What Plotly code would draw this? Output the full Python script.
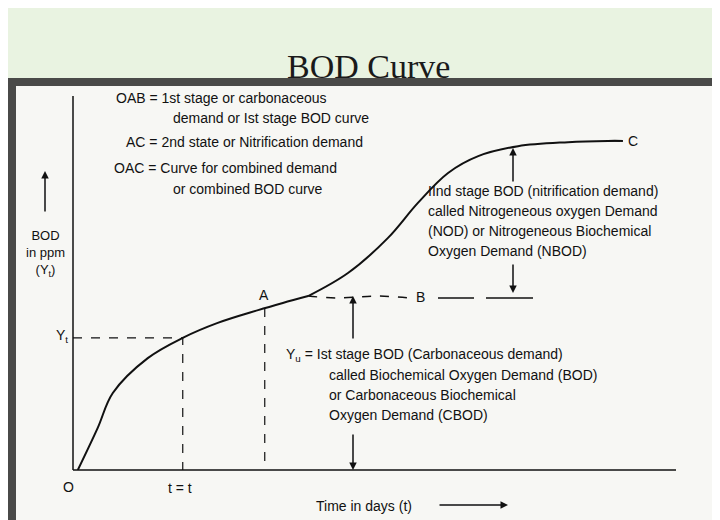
import plotly.graph_objects as go

W, H = 720, 520

# curve data (time in days, BOD in ppm, schematic)
t_first = [0.08, 0.41, 0.66, 1.24, 1.82, 2.40, 3.07, 3.48, 3.90]
bod_first = [0.0, 1.35, 2.47, 3.59, 4.24, 4.72, 5.13, 5.36, 5.58]
t_dash = [3.90, 4.39, 5.06, 5.56]
bod_dash = [5.58, 5.52, 5.58, 5.52]
t_comb = [3.90, 4.56, 5.22, 5.72, 6.22, 6.72, 7.38, 8.21, 8.87, 9.12]
bod_comb = [5.58, 6.32, 7.44, 8.57, 9.53, 10.07, 10.39, 10.52, 10.56, 10.56]
t_yt, bod_yt = 1.82, 4.24
t_a = 3.18


def px(x):
    return x / W


def py(y):
    return 1 - y / H


fig = go.Figure()
line = dict(color='#111', width=2)
fig.add_trace(go.Scatter(x=t_first, y=bod_first, mode='lines', line=dict(shape='spline', **line)))
fig.add_trace(go.Scatter(x=t_dash, y=bod_dash, mode='lines',
                         line=dict(color='#111', width=1.5, dash='dash', shape='spline')))
fig.add_trace(go.Scatter(x=t_comb, y=bod_comb, mode='lines', line=dict(shape='spline', **line)))
# guide lines
fig.add_trace(go.Scatter(x=[0, t_yt, t_yt], y=[bod_yt, bod_yt, 0], mode='lines',
                         line=dict(color='#111', width=1.2, dash='dash')))
fig.add_trace(go.Scatter(x=[t_a, t_a], y=[5.2, 0], mode='lines',
                         line=dict(color='#111', width=1.2, dash='dash')))

shapes = [
    dict(type='rect', xref='paper', yref='paper', x0=0, x1=px(712), y0=0, y1=py(70),
         fillcolor='#4a4a48', line_width=0, layer='below'),
    dict(type='rect', xref='paper', yref='paper', x0=px(8), x1=px(705), y0=0, y1=py(78),
         fillcolor='#f7f7f4', line_width=0, layer='below'),
    # axes
    dict(type='line', xref='paper', yref='paper', x0=px(65), x1=px(65), y0=py(462), y1=py(88),
         line=dict(color='#111', width=1.5)),
    dict(type='line', xref='paper', yref='paper', x0=px(65), x1=px(668), y0=py(462), y1=py(462),
         line=dict(color='#111', width=1.5)),
    # B extension dashes
    dict(type='line', xref='paper', yref='paper', x0=px(430), x1=px(466), y0=py(290), y1=py(290),
         line=dict(color='#111', width=1.5)),
    dict(type='line', xref='paper', yref='paper', x0=px(478), x1=px(525), y0=py(290), y1=py(290),
         line=dict(color='#111', width=1.5)),
    dict(type='line', xref='paper', yref='paper', x0=px(600), x1=px(612),
         y0=py(133), y1=py(133), line=dict(color='#111', width=1.5)),
]

ann = []


def text(x, y, s, size=14, align='left', anchor='left'):
    ann.append(dict(x=px(x), y=py(y), xref='paper', yref='paper', text=s, showarrow=False,
                    font=dict(size=size, color='#111', family='Liberation Sans, Arial'),
                    align=align, xanchor=anchor, yanchor='middle'))


def arrow(x0, y0, x1, y1):
    ann.append(dict(x=px(x1), y=py(y1), ax=x0 - x1, ay=y0 - y1, xref='paper', yref='paper',
                    axref='pixel', ayref='pixel', text='', showarrow=True,
                    arrowhead=2, arrowsize=1, arrowwidth=1.5, arrowcolor='#111'))


ann.append(dict(x=0.5, y=py(38), xref='paper', yref='paper', text='BOD Curve', showarrow=False,
                font=dict(size=34, color='#1a1a1a', family='Liberation Serif, serif')))
text(106, 90, 'OAB = 1st stage or carbonaceous')
text(163, 110, 'demand or Ist stage BOD curve')
text(116, 134, 'AC = 2nd state or Nitrification demand')
text(104, 160, 'OAC = Curve for combined demand')
text(163, 181, 'or combined BOD curve')
text(418, 183, 'IInd stage BOD (nitrification demand)')
text(418, 203, 'called Nitrogeneous oxygen Demand')
text(418, 223, '(NOD) or Nitrogeneous Biochemical')
text(418, 243, 'Oxygen Demand (NBOD)')
text(276, 347, 'Y<sub>u</sub> = Ist stage BOD (Carbonaceous demand)')
text(319, 367, 'called Biochemical Oxygen Demand (BOD)')
text(319, 387, 'or Carbonaceous Biochemical')
text(319, 407, 'Oxygen Demand (CBOD)')
text(37, 245, 'BOD<br>in ppm<br>(Y<sub>t</sub>)', size=13, align='center', anchor='center')
text(46, 328, 'Y<sub>t</sub>', anchor='left')
text(53, 479, 'O')
text(158, 480, 't = t')
text(249, 287, 'A')
text(406, 289, 'B')
text(618, 133, 'C')
text(306, 498, 'Time in days (t)')

arrow(345, 332, 345, 288)
arrow(345, 425, 345, 462)
arrow(505, 175, 505, 140)
arrow(505, 255, 505, 285)
arrow(37, 205, 37, 163)
arrow(430, 497, 500, 497)

fig.update_layout(
    width=W, height=H, margin=dict(l=0, r=0, t=0, b=0),
    paper_bgcolor='#e9f3e1', plot_bgcolor='rgba(0,0,0,0)',
    showlegend=False, shapes=shapes, annotations=ann,
    xaxis=dict(domain=[px(65), px(668)], range=[0, 10], visible=False, fixedrange=True),
    yaxis=dict(domain=[py(462), py(88)], range=[0, 12], visible=False, fixedrange=True),
)

fig.write_html('out.html')
